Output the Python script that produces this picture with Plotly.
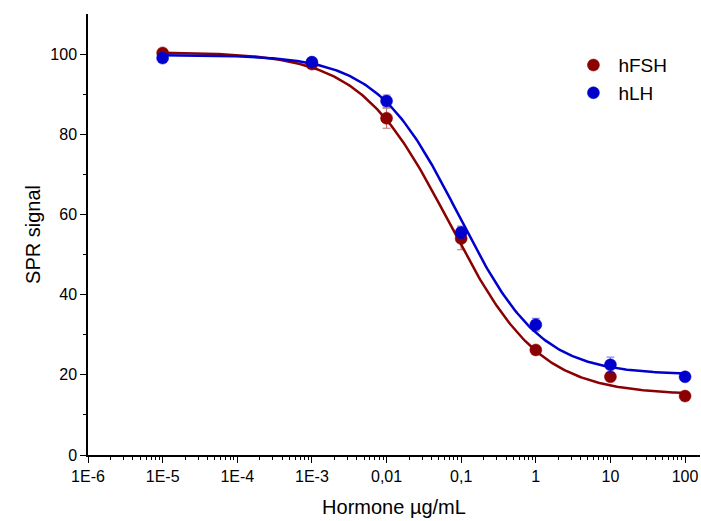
import numpy as np
import plotly.graph_objects as go

# Measured SPR signal vs hormone concentration
conc = [1e-5, 1e-3, 0.01, 0.1, 1, 10, 100]
fsh_signal = [100.3, 97.5, 84.0, 54.0, 26.2, 19.5, 14.7]
fsh_err = [0.6, 0.8, 2.5, 2.8, 0.8, 1.0, 0.6]
lh_signal = [99.0, 98.0, 88.3, 55.5, 32.5, 22.5, 19.5]
lh_err = [0.6, 0.6, 1.5, 1.6, 1.6, 1.9, 0.6]

# Four-parameter logistic fit parameters (top, bottom, EC50, Hill slope)
fsh_fit = dict(top=100.5, bottom=15.0, ec50=0.07, hill=0.72)
lh_fit = dict(top=99.8, bottom=20.0, ec50=0.092, hill=0.79)

tick_vals = [1e-6, 1e-5, 1e-4, 1e-3, 0.01, 0.1, 1, 10, 100]
tick_text = ["1E-6", "1E-5", "1E-4", "1E-3", "0,01", "0,1", "1", "10", "100"]

FSH_COLOR = "#8B0000"
LH_COLOR = "#0000CC"


def logistic(x, p):
    return p["bottom"] + (p["top"] - p["bottom"]) / (1 + (x / p["ec50"]) ** p["hill"])


x_fit = np.logspace(np.log10(conc[0]), np.log10(conc[-1]), 300)

fig = go.Figure()

for name, sig, err, fit, col, ecol in [
    ("hFSH", fsh_signal, fsh_err, fsh_fit, FSH_COLOR, "rgba(139,0,0,0.55)"),
    ("hLH", lh_signal, lh_err, lh_fit, LH_COLOR, "rgba(0,0,204,0.45)"),
]:
    fig.add_trace(go.Scatter(
        x=x_fit, y=logistic(x_fit, fit), mode="lines",
        line=dict(color=col, width=2.5), showlegend=False, hoverinfo="skip",
    ))
    fig.add_trace(go.Scatter(
        x=conc, y=sig, mode="markers", name=name,
        marker=dict(size=12, color=col, line=dict(color=col, width=0.5)),
        error_y=dict(type="data", array=err, color=ecol, thickness=1.2, width=4),
    ))

fig.update_layout(
    width=701, height=521,
    margin=dict(l=88, r=1, t=14, b=66),
    paper_bgcolor="white", plot_bgcolor="white",
    font=dict(family="Liberation Sans, Arial, sans-serif", color="black", size=16),
    legend=dict(x=0.785, y=0.927, xanchor="left", yanchor="top", itemwidth=40,
                font=dict(size=19), bgcolor="rgba(0,0,0,0)"),
    xaxis=dict(
        type="log", range=[-6, 2.2],
        tickvals=tick_vals, ticktext=tick_text,
        ticks="outside", ticklen=6, tickwidth=1.3, tickcolor="black",
        showline=True, linecolor="black", linewidth=1.5,
        showgrid=False, zeroline=False,
        minor=dict(
            tickvals=[m * 10.0 ** e for e in range(-6, 2) for m in range(2, 10)],
            ticks="outside", ticklen=3, tickwidth=1, tickcolor="black", showgrid=False,
        ),
        title=dict(text="Hormone µg/mL", font=dict(size=20), standoff=16),
        tickfont=dict(size=16),
    ),
    yaxis=dict(
        range=[0, 110], tickvals=[0, 20, 40, 60, 80, 100],
        ticks="outside", ticklen=6, tickwidth=1.3, tickcolor="black",
        showline=True, linecolor="black", linewidth=1.5,
        showgrid=False, zeroline=False,
        minor=dict(tickvals=[10, 30, 50, 70, 90], ticks="outside", ticklen=3,
                   tickwidth=1, tickcolor="black", showgrid=False),
        title=dict(text="SPR signal", font=dict(size=20), standoff=4),
        tickfont=dict(size=16),
    ),
)

fig.write_html("out.html")
